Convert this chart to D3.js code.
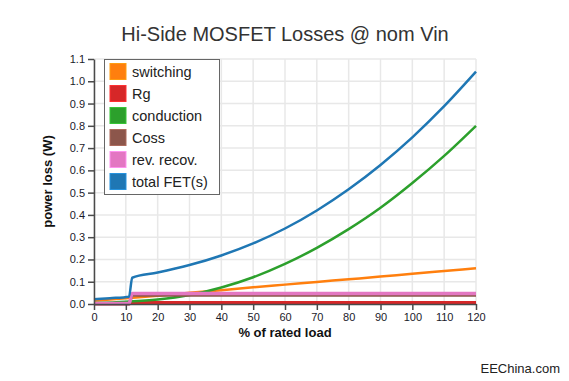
<!DOCTYPE html>
<html>
<head>
<meta charset="utf-8">
<script src="https://cdn.jsdelivr.net/npm/d3@7"></script>
<style>
  body { margin: 0; background: #fff; }
  svg { font-family: "Liberation Sans", Arial, sans-serif; }
  .grid line { stroke: #e8e8e8; stroke-width: 1.5; }
  .axis path, .axis line { stroke: #4a4a4a; stroke-width: 1.5; }
  .axis text { font-size: 11px; fill: #1a1a2a; }
</style>
</head>
<body>
<div id="fig"></div>
<script>
// load points (% of rated load)
const loadPts = [0, 10, 20, 30, 40, 50, 60, 70, 80, 90, 100, 110, 120];
const stepPts = [0, 11, 12, 120];
const totalPts = [0, 5, 11, 12, 20, 30, 40, 50, 60, 70, 80, 90, 100, 110, 120];

// power loss (W)
const switching = [0.015, 0.026, 0.037, 0.050, 0.062, 0.075, 0.087, 0.099, 0.111, 0.123, 0.136, 0.148, 0.160];
const conduction = [0.004, 0.010, 0.020, 0.040, 0.074, 0.120, 0.180, 0.252, 0.336, 0.432, 0.543, 0.665, 0.800];
const rg = [0.001, 0.001, 0.007, 0.007];
const coss = [0.0, 0.0, 0.039, 0.039];
const revRecov = [0.002, 0.002, 0.047, 0.047];
const total = [0.021, 0.026, 0.033, 0.118, 0.141, 0.175, 0.218, 0.272, 0.339, 0.420, 0.515, 0.624, 0.748, 0.888, 1.043];

const yTicks = [0, 0.1, 0.2, 0.3, 0.4, 0.5, 0.6, 0.7, 0.8, 0.9, 1.0, 1.1];
const xTicks = [0, 10, 20, 30, 40, 50, 60, 70, 80, 90, 100, 110, 120];

const series = [
    {name: "switching", color: "#ff7f0e", x: loadPts, y: switching, w: 2.5},
    {name: "Rg", color: "#d62728", x: stepPts, y: rg, w: 3},
    {name: "conduction", color: "#2ca02c", x: loadPts, y: conduction, w: 2.5},
    {name: "Coss", color: "#8c564b", x: stepPts, y: coss, w: 3},
    {name: "rev. recov.", color: "#e377c2", x: stepPts, y: revRecov, w: 3.5},
    {name: "total FET(s)", color: "#1f77b4", x: totalPts, y: total, w: 2.5}
];

const W = 569, H = 381;
const margin = {top: 59, right: 93, bottom: 77, left: 94};
const width = W - margin.left - margin.right;
const height = H - margin.top - margin.bottom;

const svg = d3.select("#fig").append("svg")
    .attr("width", W)
    .attr("height", H);

const g = svg.append("g")
    .attr("transform", "translate(" + margin.left + "," + margin.top + ")");

const xScale = d3.scaleLinear().domain([0, 120]).range([0, width]);
const yScale = d3.scaleLinear().domain([0, 1.1]).range([height, 0]);

// grid
g.append("g").attr("class", "grid")
    .selectAll("line").data(xTicks).enter().append("line")
    .attr("x1", d => xScale(d)).attr("x2", d => xScale(d))
    .attr("y1", 0).attr("y2", height);
g.append("g").attr("class", "grid")
    .selectAll("line").data(yTicks).enter().append("line")
    .attr("x1", 0).attr("x2", width)
    .attr("y1", d => yScale(d)).attr("y2", d => yScale(d));

// lines
const line = d3.line()
    .x(d => xScale(d[0]))
    .y(d => yScale(d[1]))
    .curve(d3.curveMonotoneX);

series.forEach(s => {
    g.append("path")
        .datum(s.x.map((v, i) => [v, s.y[i]]))
        .attr("fill", "none")
        .attr("stroke", s.color)
        .attr("stroke-width", s.w)
        .attr("d", line);
});

// axes
g.append("g")
    .attr("class", "axis")
    .attr("transform", "translate(0," + height + ")")
    .call(d3.axisBottom(xScale).tickValues(xTicks).tickSizeOuter(0));

g.append("g")
    .attr("class", "axis")
    .call(d3.axisLeft(yScale).tickValues(yTicks).tickFormat(d3.format(".1f")).tickSizeOuter(0));

// legend
const legend = g.append("g").attr("transform", "translate(10,0)");
legend.append("rect")
    .attr("x", 0.5).attr("y", 0.5)
    .attr("width", 115).attr("height", 135)
    .attr("fill", "#fff")
    .attr("stroke", "#666")
    .attr("stroke-width", 1);

series.forEach((s, i) => {
    const row = legend.append("g").attr("transform", "translate(6," + (4.5 + i * 22) + ")");
    row.append("rect")
        .attr("width", 16).attr("height", 16)
        .attr("fill", s.color)
        .attr("stroke", d3.color(s.color).brighter(0.6))
        .attr("stroke-width", 1);
    row.append("text")
        .attr("x", 22).attr("y", 13.5)
        .style("font-size", "14.5px")
        .attr("fill", "#222")
        .text(s.name);
});

// title and axis labels
svg.append("text")
    .attr("x", 285).attr("y", 41)
    .attr("text-anchor", "middle")
    .style("font-size", "20px")
    .attr("fill", "#333")
    .text("Hi-Side MOSFET Losses @ nom Vin");

svg.append("text")
    .attr("transform", "translate(52," + (margin.top + height / 2) + ") rotate(-90)")
    .attr("text-anchor", "middle")
    .style("font-size", "13px")
    .style("font-weight", "bold")
    .attr("fill", "#111")
    .text("power loss (W)");

svg.append("text")
    .attr("x", margin.left + width / 2).attr("y", 337)
    .attr("text-anchor", "middle")
    .style("font-size", "13px")
    .style("font-weight", "bold")
    .attr("fill", "#111")
    .text("% of rated load");

svg.append("text")
    .attr("x", 560).attr("y", 373)
    .attr("text-anchor", "end")
    .style("font-size", "13px")
    .attr("fill", "#222")
    .text("EEChina.com");
</script>
</body>
</html>
